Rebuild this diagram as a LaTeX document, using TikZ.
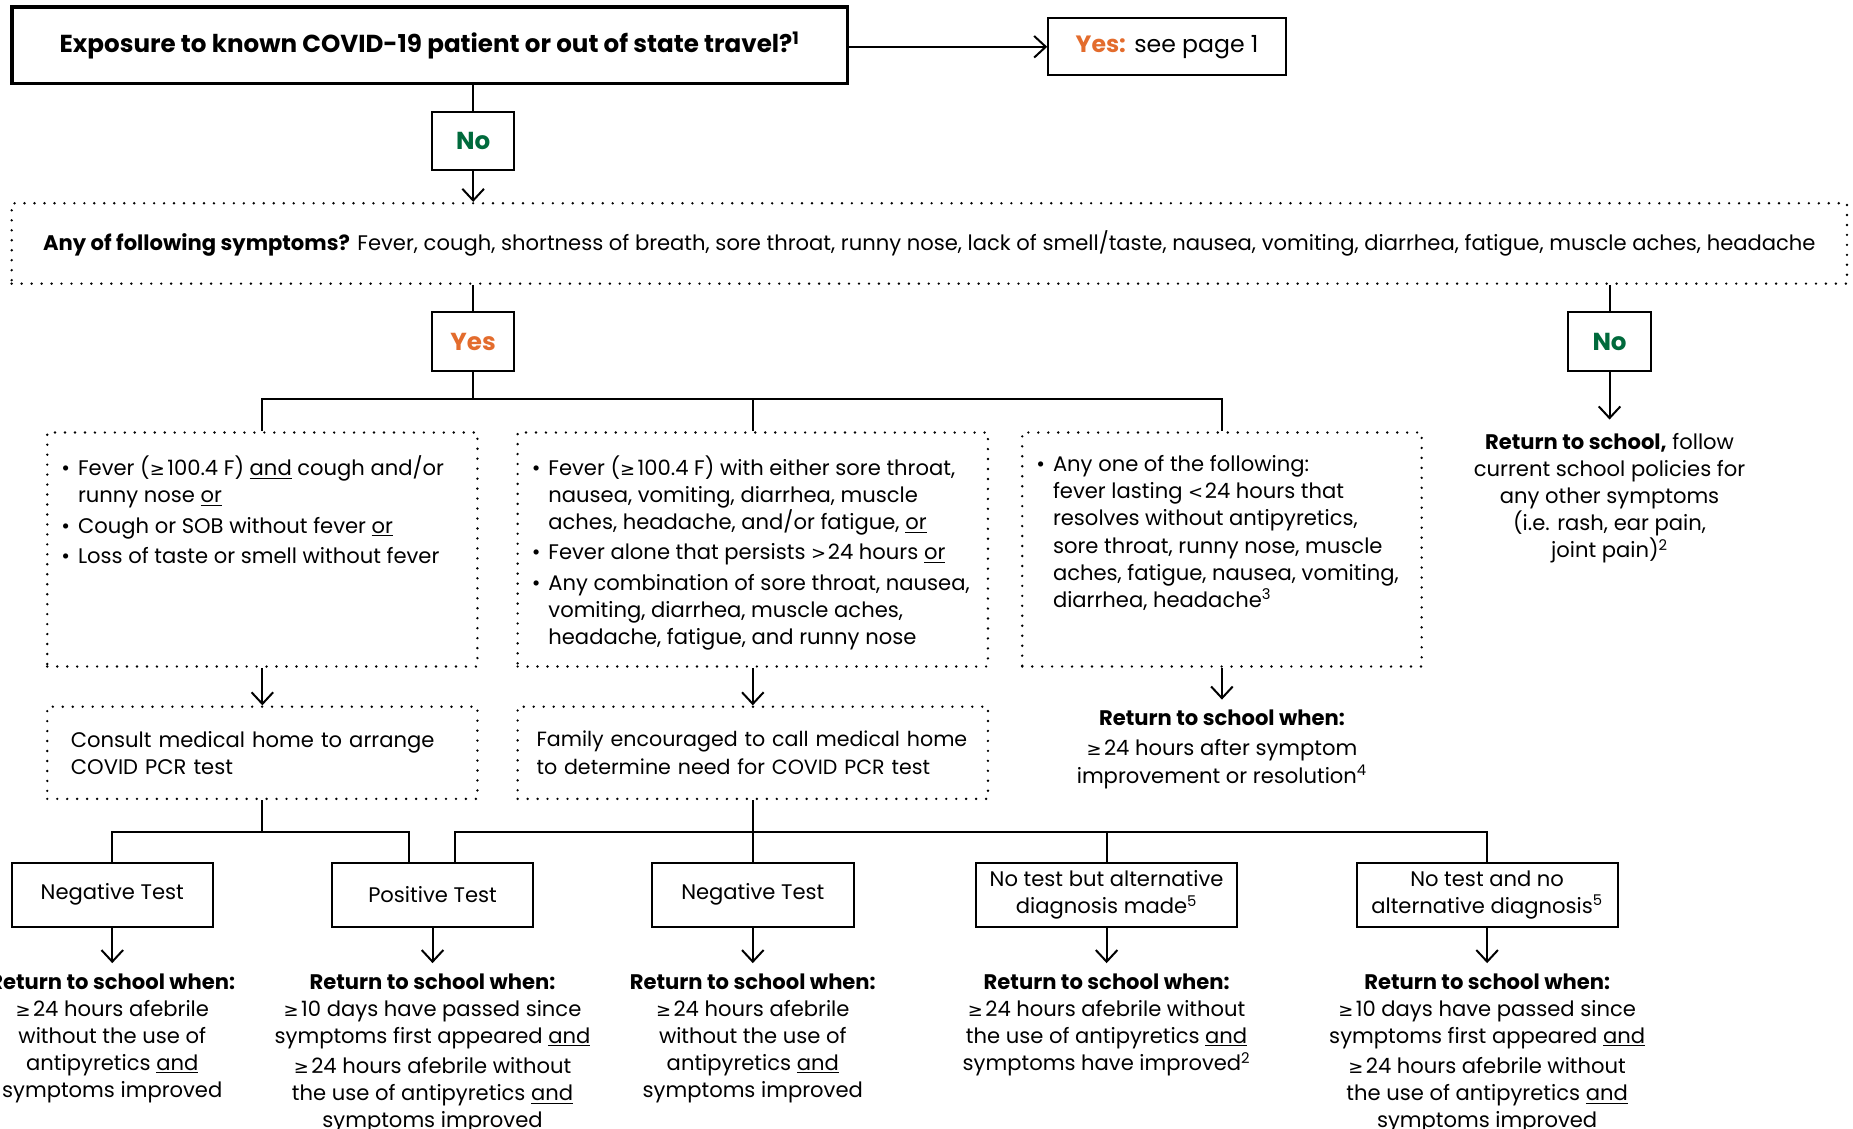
\documentclass[tikz,border=0pt]{standalone}
\usepackage{fontspec}
\setmainfont{Poppins}
\newfontfamily\symfont{DejaVu Sans}[Scale=0.85]
\usetikzlibrary{arrows.meta}

\definecolor{yesorange}{RGB}{227,108,45}
\definecolor{nogreen}{RGB}{0,106,60}

\newcommand{\bul}{\par\vspace{2pt}\noindent\hangindent=10pt\hangafter=1\makebox[10pt][l]{•}}
\newcommand{\topbox}[3]{\parbox[c][#2][t]{#1}{\rightskip=-1cm plus 1fil\relax #3}}
\newcommand{\atleast}{{\symfont ≥}\kern1.5pt}
\newcommand{\lessthan}{{\symfont <}\kern1pt}
\newcommand{\morethan}{{\symfont >}\kern1pt}

\begin{document}
\begin{tikzpicture}[
        txt/.style={font=\fontsize{12.7}{16.3}\selectfont},
        solidbox/.style={draw, line width=1.2pt, txt, inner sep=0pt, align=center},
        dotbox/.style={draw, line width=1.6pt, line cap=round, dash pattern=on 0pt off 6pt, txt},
        link/.style={line width=1.2pt},
        arr/.style={link, -{Straight Barb[length=7pt,width=13pt]}},
        ans/.style={txt, align=center, inner xsep=2pt, inner ysep=6pt},
        big/.style={font=\fontsize{14.8}{17}\selectfont\bfseries}
    ]
            \useasboundingbox (0,0) rectangle (39.2,-23.875);

            % top question
            \node[solidbox, line width=2pt, minimum width=17.675cm, minimum height=1.625cm, big] (q1) at (9.09,-0.96)
                {Exposure to known COVID-19 patient or out of state travel?\textsuperscript{1}};
            \node[solidbox, minimum width=5.03cm, minimum height=1.2cm, font=\fontsize{14.2}{16}\selectfont] (yes1) at (24.69,-0.99)
                {\textcolor{yesorange}{\textbf{Yes:}} see page 1};
            \node[solidbox, minimum width=1.725cm, minimum height=1.225cm, big, text=nogreen] (no1) at (10.01,-2.99) {No};

            % symptoms
            \node[dotbox, minimum width=38.825cm, minimum height=1.7cm] (symp) at (19.66,-5.15)
                {\textbf{Any of following symptoms?} Fever, cough, shortness of breath, sore throat, runny nose, lack of smell/taste, nausea, vomiting, diarrhea, fatigue, muscle aches, headache};
            \node[solidbox, minimum width=1.725cm, minimum height=1.25cm, big, text=yesorange] (yes2) at (10.01,-7.225) {Yes};
            \node[solidbox, minimum width=1.75cm, minimum height=1.25cm, big, text=nogreen] (no2) at (34.05,-7.225) {No};
            \node[ans, inner ysep=8pt, anchor=north] (no2txt) at (34.05,-8.875)
                {\textbf{Return to school,} follow\\current school policies for\\any other symptoms\\(i.e. rash, ear pain,\\joint pain)\textsuperscript{2}};

            % three groups
            \node[dotbox, inner xsep=0.3cm, inner ysep=0.42cm] (dA) at (5.55,-11.625)
                {\topbox{8.5cm}{4.11cm}{%
                    \bul Fever (\atleast 100.4 F) \underline{and} cough and/or\\runny nose \underline{or}
                    \bul Cough or SOB without fever \underline{or}
                    \bul Loss of taste or smell without fever}};
            \node[dotbox, inner xsep=0.3cm, inner ysep=0.42cm] (dB) at (15.925,-11.625)
                {\topbox{9.35cm}{4.11cm}{%
                    \bul Fever (\atleast 100.4 F) with either sore throat,\\nausea, vomiting, diarrhea, muscle\\aches, headache, and/or fatigue, \underline{or}
                    \bul Fever alone that persists \morethan 24 hours \underline{or}
                    \bul Any combination of sore throat, nausea,\\vomiting, diarrhea, muscle aches,\\headache, fatigue, and runny nose}};
            \node[dotbox, inner xsep=0.3cm, inner ysep=0.42cm] (dC) at (25.85,-11.625)
                {\topbox{7.85cm}{4.11cm}{%
                    \bul Any one of the following:\\fever lasting \lessthan 24 hours that\\resolves without antipyretics,\\sore throat, runny nose, muscle\\aches, fatigue, nausea, vomiting,\\diarrhea, headache\textsuperscript{3}}};

            \node[dotbox, minimum height=1.95cm, text width=8.1cm, inner xsep=0.5cm, align=left] (dA2) at (5.55,-15.925)
                {Consult medical home to arrange\\COVID PCR test};
            \node[dotbox, minimum height=1.95cm, text width=9.15cm, inner xsep=0.4cm, align=left, font=\fontsize{12.4}{16.3}\selectfont] (dB2) at (15.925,-15.925)
                {\mbox{Family encouraged to call medical home}\\\mbox{to determine need for COVID PCR test}};
            \node[ans, anchor=north] (cTxt) at (25.85,-14.8)
                {\textbf{Return to school when:}\\[2pt]\atleast 24 hours after symptom\\improvement or resolution\textsuperscript{4}};

            % test results
            \node[solidbox, minimum width=4.25cm, minimum height=1.35cm] (neg1) at (2.375,-18.925) {Negative Test};
            \node[solidbox, minimum width=4.25cm, minimum height=1.35cm] (pos) at (9.15,-18.925) {Positive Test};
            \node[solidbox, minimum width=4.275cm, minimum height=1.35cm] (neg2) at (15.925,-18.925) {Negative Test};
            \node[solidbox, minimum width=5.525cm, minimum height=1.35cm] (alt) at (23.41,-18.925)
                {No test but alternative\\diagnosis made\textsuperscript{5}};
            \node[solidbox, minimum width=5.525cm, minimum height=1.35cm] (noalt) at (31.46,-18.925)
                {No test and no\\alternative diagnosis\textsuperscript{5}};

            \node[ans, anchor=north] (neg1txt) at (2.375,-20.375)
                {\textbf{Return to school when:}\\\atleast 24 hours afebrile\\without the use of\\antipyretics \underline{and}\\symptoms improved};
            \node[ans, anchor=north] (postxt) at (9.15,-20.375)
                {\textbf{Return to school when:}\\\atleast 10 days have passed since\\symptoms first appeared \underline{and}\\[2pt]\atleast 24 hours afebrile without\\the use of antipyretics \underline{and}\\symptoms improved};
            \node[ans, anchor=north] (neg2txt) at (15.925,-20.375)
                {\textbf{Return to school when:}\\\atleast 24 hours afebrile\\without the use of\\antipyretics \underline{and}\\symptoms improved};
            \node[ans, anchor=north] (alttxt) at (23.41,-20.375)
                {\textbf{Return to school when:}\\\atleast 24 hours afebrile without\\the use of antipyretics \underline{and}\\symptoms have improved\textsuperscript{2}};
            \node[ans, anchor=north] (noalttxt) at (31.46,-20.375)
                {\textbf{Return to school when:}\\\atleast 10 days have passed since\\symptoms first appeared \underline{and}\\[2pt]\atleast 24 hours afebrile without\\the use of antipyretics \underline{and}\\symptoms improved};

            \coordinate (br1) at (0,-8.45);
            \coordinate (br2) at (0,-17.6);
            \coordinate (posl) at ([xshift=-5mm]pos.north);
            \coordinate (posr) at ([xshift=4.75mm]pos.north);

            \draw[arr] (q1.east |- yes1) -- (yes1.west);
            \draw[link] (no1 |- q1.south) -- (no1);
            \draw[arr] (no1) -- (no1 |- symp.north);
            \draw[link] (yes2 |- symp.south) -- (yes2);
            \draw[link] (no2 |- symp.south) -- (no2);
            \draw[arr] (no2) -- (no2txt);

            \draw[link] (yes2) -- (yes2 |- br1);
            \draw[link] (dA.north) -- (dA.north |- br1) -- (dC.north |- br1) -- (dC.north);
            \draw[link] (dB.north) -- (dB.north |- br1);
            \draw[arr] (dA) -- (dA2);
            \draw[arr] (dB) -- (dB2);
            \draw[arr] (dC) -- (cTxt);

            \draw[link] (dA2) -- (dA2.south |- br2);
            \draw[link] (neg1) -- (neg1 |- br2) -- (posl |- br2) -- (posl);
            \draw[link] (dB2) -- (neg2);
            \draw[link] (posr) -- (posr |- br2) -- (noalt.north |- br2) -- (noalt);
            \draw[link] (alt) -- (alt |- br2);

            \foreach \b in {neg1,pos,neg2,alt,noalt}{
                \draw[arr] (\b) -- (\b txt);
            }
\end{tikzpicture}
\end{document}
